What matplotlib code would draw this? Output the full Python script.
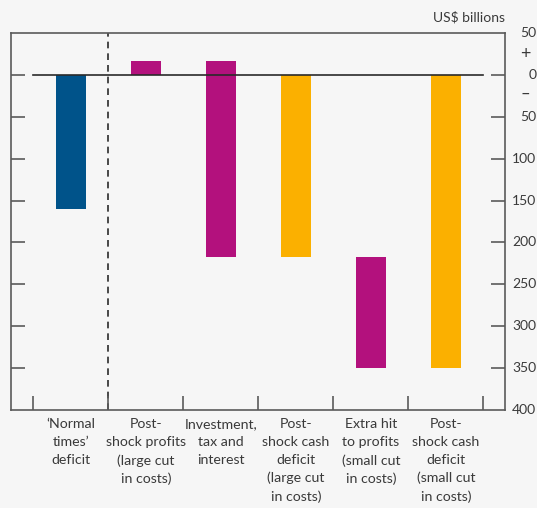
import numpy as np
import matplotlib
matplotlib.use("Agg")
import matplotlib.pyplot as plt

plt.rcParams['font.family'] = ['Lato', 'DejaVu Sans']

categories = ["\u2018Normal\ntimes\u2019\ndeficit",
              "Post-\nshock profits\n(large cut\nin costs)",
              "Investment,\ntax and\ninterest",
              "Post-\nshock cash\ndeficit\n(large cut\nin costs)",
              "Extra hit\nto profits\n(small cut\nin costs)",
              "Post-\nshock cash\ndeficit\n(small cut\nin costs)"]
bar_start = [0, 0, 17, 0, -217, 0]
bar_end = [-160, 17, -217, -217, -350, -350]
bar_colors = ['#00538a', '#b3117d', '#b3117d', '#fbb000', '#b3117d', '#fbb000']
ytick_vals = [50, 0, -50, -100, -150, -200, -250, -300, -350, -400]
ytick_labels = ['50', '0', '50', '100', '150', '200', '250', '300', '350', '400']

bg = '#f6f6f6'
spine_col = '#5a5a5a'
text_col = '#3a3a3a'

fig = plt.figure(figsize=(5.37, 5.08), dpi=100, facecolor=bg)
ax = fig.add_axes([11/537, 1 - 410/508, (505 - 11)/537, (410 - 33)/508])
ax.set_facecolor(bg)

x = np.arange(len(categories))
heights = np.array(bar_end) - np.array(bar_start)
ax.bar(x, heights, bottom=bar_start, width=0.4, color=bar_colors, zorder=2)

ax.set_xlim(-0.8, 5.787)
ax.set_ylim(-400, 50)

# zero line and separator
ax.plot([-0.5, 5.5], [0, 0], color='#2a2a2a', lw=1.2, zorder=3)
ax.axvline(0.5, color='#2a2a2a', lw=1.2, ls=(0, (4, 3)), zorder=1)

for s in ax.spines.values():
    s.set_color(spine_col)
    s.set_linewidth(1.2)

# x ticks between categories, labels centred on bars
ax.set_xticks(np.arange(-0.5, 6, 1.0))
ax.set_xticklabels([])
ax.set_xticks(x, minor=True)
ax.set_xticklabels(categories, minor=True, fontsize=10.2, color=text_col,
                   linespacing=1.57, va='top')
ax.tick_params(axis='x', which='major', direction='in', length=10,
               width=1.2, color=spine_col, top=False)
ax.tick_params(axis='x', which='minor', length=0, pad=6)

# y ticks both sides, labels right-aligned at right
ax.set_yticks([v for v in ytick_vals if -400 < v < 50])
ax.set_yticklabels([])
ax.tick_params(axis='y', direction='in', length=10, width=1.2,
               color=spine_col, left=True, right=True)
for v, lab in zip(ytick_vals, ytick_labels):
    ax.annotate(lab, xy=(1, v), xycoords=('axes fraction', 'data'),
                xytext=(22.5, 0), textcoords='offset points',
                ha='right', va='center', fontsize=10, color=text_col,
                annotation_clip=False)
ax.annotate('+', xy=(1, 25), xycoords=('axes fraction', 'data'),
            xytext=(14.5, 0), textcoords='offset points',
            ha='center', va='center', fontsize=13, color=text_col,
            annotation_clip=False)
ax.annotate('\u2013', xy=(1, -23), xycoords=('axes fraction', 'data'),
            xytext=(14.5, 0), textcoords='offset points',
            ha='center', va='center', fontsize=12, color=text_col,
            annotation_clip=False)

ax.text(1.0, 1.025, 'US$ billions', transform=ax.transAxes, ha='right',
        va='bottom', fontsize=10, color=text_col)

fig.savefig('out.png', dpi=100, facecolor=bg)
